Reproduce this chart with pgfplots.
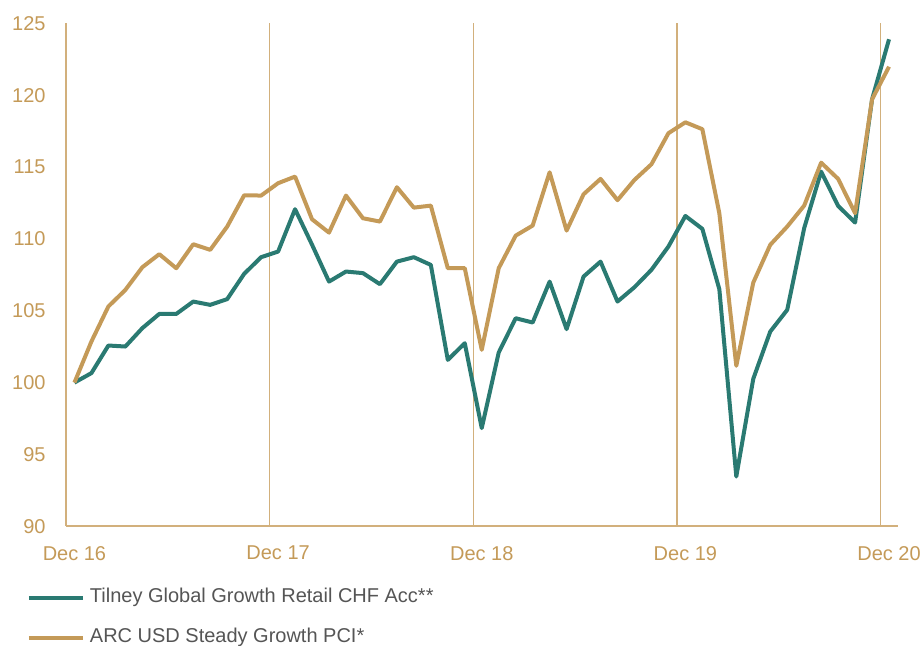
\documentclass[border=0pt]{standalone}
\usepackage{fontspec}
\setmainfont{Liberation Sans}
\usepackage{pgfplots}
\pgfplotsset{compat=1.18}
\definecolor{teal1}{HTML}{2A7A72}
\definecolor{gold1}{HTML}{C49A58}
\definecolor{gridgold}{HTML}{D2B07C}
\definecolor{legtext}{HTML}{555555}
\begin{document}
\begin{tikzpicture}
\useasboundingbox (-33pt,-59.75pt) rectangle (428.75pt,263.25pt);
\begin{axis}[
 at={(0,0)}, anchor=south west,
 scale only axis, width=416pt, height=251.5pt,
 xmin=-0.5, xmax=48.5, ymin=90, ymax=125,
 axis x line=bottom, axis y line=left,
 axis line style={draw=gridgold, line width=0.75pt, -},
 x axis line style={-}, y axis line style={-},
 xtick={0,12,24,36,48}, xticklabels={Dec 16,Dec 17,Dec 18,Dec 19,Dec 20},
 ytick={90,95,...,125},
 major tick length=0pt,
 extra x ticks={11.5,23.5,35.5,47.5}, extra x tick labels={},
 extra x tick style={grid=major, major grid style={draw=gridgold, line width=0.75pt}, major tick length=0pt},
 tick label style={font=\fontsize{10}{12}\selectfont, text=gold1, inner sep=0pt},
 xticklabel style={yshift=-9.75pt, anchor=north},
 yticklabel style={xshift=-10pt, anchor=east},
 /pgf/number format/assume math mode=true,
 legend style={at={(0,0)}, anchor=north west, xshift=-19.5pt, yshift=-30.9pt,
   draw=none, fill=none, inner sep=0pt, outer sep=0pt, row sep=10pt, column sep=2.5pt,
   font=\fontsize{10}{12}\selectfont, text=legtext,
   nodes={inner sep=0pt, text height=7.5pt, text depth=2.5pt}},
 legend cell align=left,
 legend image code/.code={\draw[#1, line width=2pt] (0pt,0pt) -- (27pt,0pt);},
]
\addplot[teal1, line width=2pt, line join=round] coordinates {
(0,100) (1,100.66) (2,102.58) (3,102.51) (4,103.79) (5,104.78) (6,104.78) (7,105.64) (8,105.41) (9,105.81)
(10,107.57) (11,108.73) (12,109.12) (13,112.07) (14,109.6) (15,107.03) (16,107.73) (17,107.62) (18,106.85) (19,108.42)
(20,108.73) (21,108.19) (22,101.58) (23,102.74) (24,96.83) (25,102.09) (26,104.48) (27,104.18) (28,107.03) (29,103.72)
(30,107.38) (31,108.42) (32,105.64) (33,106.64) (34,107.85) (35,109.47) (36,111.6) (37,110.7) (38,106.5) (39,93.46)
(40,100.26) (41,103.55) (42,105.06) (43,110.75) (44,114.69) (45,112.3) (46,111.14) (47,119.72) (48,123.9)
};
\addlegendentry{Tilney Global Growth Retail CHF Acc**}
\addplot[gold1, line width=2pt, line join=round] coordinates {
(0,100) (1,102.86) (2,105.3) (3,106.45) (4,108.03) (5,108.94) (6,107.96) (7,109.63) (8,109.24) (9,110.86)
(10,113.04) (11,113.02) (12,113.88) (13,114.34) (14,111.37) (15,110.44) (16,113.02) (17,111.44) (18,111.21) (19,113.6)
(20,112.18) (21,112.32) (22,107.96) (23,107.96) (24,102.28) (25,107.96) (26,110.23) (27,110.93) (28,114.64) (29,110.58)
(30,113.11) (31,114.18) (32,112.7) (33,114.11) (34,115.2) (35,117.36) (36,118.12) (37,117.64) (38,111.79) (39,101.17)
(40,106.96) (41,109.59) (42,110.86) (43,112.32) (44,115.31) (45,114.18) (46,111.79) (47,119.72) (48,121.99)
};
\addlegendentry{ARC USD Steady Growth PCI*}
\end{axis}
\end{tikzpicture}
\end{document}
